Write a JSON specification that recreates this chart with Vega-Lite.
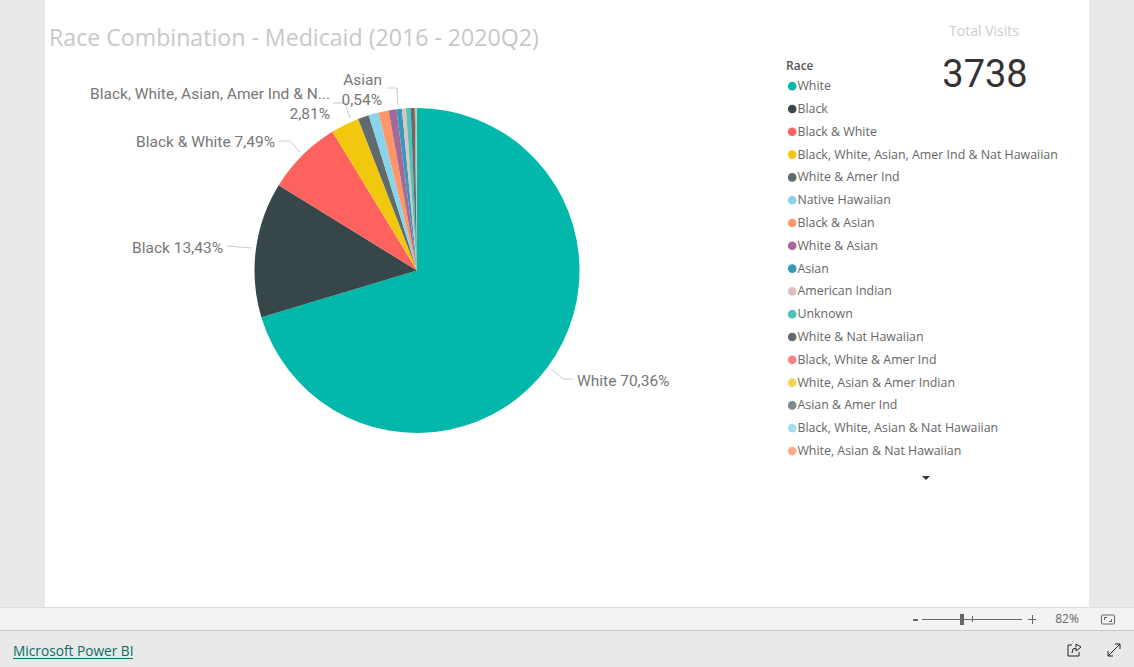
{
"$schema":"https://vega.github.io/schema/vega-lite/v6.json",
"width":834,"height":541,
"autosize":{"type":"none"},
"padding":{"left":0,"top":0,"right":300,"bottom":126},
"background":"#e9e9e9",
"config":{"view":{"stroke":null}},
"title":{"text":"Race Combination - Medicaid (2016 - 2020Q2)","anchor":"start","frame":"group","orient":"top","offset":0,"dx":49,"dy":51,"font":"Open Sans","fontSize":23.15,"fontWeight":"normal","color":"#c8c8c8","zindex":1},
"datasets":{
"race":[
{"race":"White","share":70.36,"rank":1},
{"race":"Black","share":13.43,"rank":2},
{"race":"Black & White","share":7.49,"rank":3},
{"race":"Black, White, Asian, Amer Ind & Nat Hawaiian","share":2.81,"rank":4},
{"race":"White & Amer Ind","share":1.1,"rank":5},
{"race":"Native Hawaiian","share":1.0,"rank":6},
{"race":"Black & Asian","share":1.0,"rank":7},
{"race":"White & Asian","share":0.78,"rank":8},
{"race":"Asian","share":0.54,"rank":9},
{"race":"American Indian","share":0.4,"rank":10},
{"race":"Unknown","share":0.46,"rank":11},
{"race":"White & Nat Hawaiian","share":0.4,"rank":12},
{"race":"Black, White & Amer Ind","share":0.1,"rank":13},
{"race":"White, Asian & Amer Indian","share":0.05,"rank":14},
{"race":"Asian & Amer Ind","share":0.04,"rank":15},
{"race":"Black, White, Asian & Nat Hawaiian","share":0.02,"rank":16},
{"race":"White, Asian & Nat Hawaiian","share":0.01,"rank":17}
]},
"layer":[
{"data":{"values":[{"x":45,"x2":1089,"y":0,"y2":607}]},"mark":{"type":"rect","color":"#ffffff"},"encoding":{"x":{"field":"x","type":"quantitative","axis":null,"scale":{"domain":[0,1134],"range":[0,1134],"nice":false}},"x2":{"field":"x2"},"y":{"field":"y","type":"quantitative","axis":null,"scale":{"domain":[0,667],"range":[0,667],"nice":false}},"y2":{"field":"y2"}}},
{"data":{"values":[{"x":0,"x2":1134,"y":607,"y2":631}]},"mark":{"type":"rect","color":"#f3f3f3"},"encoding":{"x":{"field":"x","type":"quantitative","axis":null,"scale":{"domain":[0,1134],"range":[0,1134],"nice":false}},"x2":{"field":"x2"},"y":{"field":"y","type":"quantitative","axis":null,"scale":{"domain":[0,667],"range":[0,667],"nice":false}},"y2":{"field":"y2"}}},
{"data":{"values":[{"x":0,"x2":1134,"y":607,"y2":608}]},"mark":{"type":"rect","color":"#dedede"},"encoding":{"x":{"field":"x","type":"quantitative","axis":null,"scale":{"domain":[0,1134],"range":[0,1134],"nice":false}},"x2":{"field":"x2"},"y":{"field":"y","type":"quantitative","axis":null,"scale":{"domain":[0,667],"range":[0,667],"nice":false}},"y2":{"field":"y2"}}},
{"data":{"values":[{"x":0,"x2":1134,"y":630,"y2":631}]},"mark":{"type":"rect","color":"#c8c8c8"},"encoding":{"x":{"field":"x","type":"quantitative","axis":null,"scale":{"domain":[0,1134],"range":[0,1134],"nice":false}},"x2":{"field":"x2"},"y":{"field":"y","type":"quantitative","axis":null,"scale":{"domain":[0,667],"range":[0,667],"nice":false}},"y2":{"field":"y2"}}},
{"data":{"values":[{"x":922,"x2":1022,"y":619,"y2":620},{"x":960,"x2":964,"y":614,"y2":625},{"x":972,"x2":973,"y":616,"y2":622},{"x":913,"x2":918,"y":619,"y2":621},{"x":1028,"x2":1036,"y":619,"y2":620},{"x":1032,"x2":1033,"y":615,"y2":624},{"x":1104,"x2":1107,"y":617,"y2":618},{"x":1104,"x2":1105,"y":617,"y2":620},{"x":1109,"x2":1112,"y":621,"y2":622},{"x":1111,"x2":1112,"y":619,"y2":622}]},"mark":{"type":"rect","color":"#666666"},"encoding":{"x":{"field":"x","type":"quantitative","axis":null,"scale":{"domain":[0,1134],"range":[0,1134],"nice":false}},"x2":{"field":"x2"},"y":{"field":"y","type":"quantitative","axis":null,"scale":{"domain":[0,667],"range":[0,667],"nice":false}},"y2":{"field":"y2"}}},
{"data":{"values":[{"x":1101.5,"x2":1114.5,"y":615,"y2":624}]},"mark":{"type":"rect","fill":null,"stroke":"#666666","strokeWidth":1,"cornerRadius":1},"encoding":{"x":{"field":"x","type":"quantitative","axis":null,"scale":{"domain":[0,1134],"range":[0,1134],"nice":false}},"x2":{"field":"x2"},"y":{"field":"y","type":"quantitative","axis":null,"scale":{"domain":[0,667],"range":[0,667],"nice":false}},"y2":{"field":"y2"}}},
{"data":{"values":[{"x":13,"x2":133,"y":658,"y2":659}]},"mark":{"type":"rect","color":"#0b6a66"},"encoding":{"x":{"field":"x","type":"quantitative","axis":null,"scale":{"domain":[0,1134],"range":[0,1134],"nice":false}},"x2":{"field":"x2"},"y":{"field":"y","type":"quantitative","axis":null,"scale":{"domain":[0,667],"range":[0,667],"nice":false}},"y2":{"field":"y2"}}},
{"data":{"name":"race"},"mark":{"type":"arc","radius":162.5},"encoding":{
"theta":{"field":"share","type":"quantitative","stack":true},
"order":{"field":"rank","type":"quantitative"},
"color":{"field":"race","type":"nominal","scale":{"domain":["White","Black","Black & White","Black, White, Asian, Amer Ind & Nat Hawaiian","White & Amer Ind","Native Hawaiian","Black & Asian","White & Asian","Asian","American Indian","Unknown","White & Nat Hawaiian","Black, White & Amer Ind","White, Asian & Amer Indian","Asian & Amer Ind","Black, White, Asian & Nat Hawaiian","White, Asian & Nat Hawaiian"],"range":["#01B8AA","#374649","#FD625E","#F2C80F","#5F6B6D","#8AD4EB","#FE9666","#A66999","#3599B8","#DFBFBF","#4AC5BB","#5F6B6D","#FB8281","#F4D25A","#7F898A","#A4DDEE","#FDAB89"]},
"legend":{"title":"Race","orient":"none","legendX":786,"legendY":61,"symbolType":"circle","symbolSize":75,"symbolStrokeWidth":0,"labelFont":"Open Sans","labelFontSize":12.4,"labelColor":"#666666","titleFont":"Open Sans","titleFontSize":12,"titleFontWeight":600,"titleColor":"#555555","titlePadding":7,"rowPadding":9.8,"labelOffset":-1,"labelLimit":300,"columns":1,"padding":0}}
}},
{"data":{"values":[
{"g":"w","x":551,"y":369},{"g":"w","x":563,"y":379},{"g":"w","x":573,"y":379},
{"g":"k","x":227,"y":246},{"g":"k","x":252,"y":248},
{"g":"bw","x":279,"y":141},{"g":"bw","x":290,"y":141},{"g":"bw","x":300,"y":152},
{"g":"m","x":333,"y":103},{"g":"m","x":345,"y":103},{"g":"m","x":350,"y":118},
{"g":"a","x":387,"y":88},{"g":"a","x":397,"y":88},{"g":"a","x":398,"y":105}
]},"mark":{"type":"line","color":"#cccccc","strokeWidth":1},"encoding":{"x":{"field":"x","type":"quantitative","axis":null,"scale":{"domain":[0,1134],"range":[0,1134],"nice":false}},"y":{"field":"y","type":"quantitative","axis":null,"scale":{"domain":[0,667],"range":[0,667],"nice":false}},"detail":{"field":"g"},"order":{"field":"x"}}},
{"data":{"values":[
{"g":"1","i":1,"x":1108,"y":656},{"g":"1","i":2,"x":1120,"y":644},
{"g":"2","i":1,"x":1108,"y":651},{"g":"2","i":2,"x":1108,"y":656},{"g":"2","i":3,"x":1113,"y":656},
{"g":"3","i":1,"x":1115,"y":644},{"g":"3","i":2,"x":1120,"y":644},{"g":"3","i":3,"x":1120,"y":649},
{"g":"4","i":1,"x":1072,"y":645},{"g":"4","i":2,"x":1068,"y":645},{"g":"4","i":3,"x":1068,"y":656},{"g":"4","i":4,"x":1079,"y":656},{"g":"4","i":5,"x":1079,"y":652},
{"g":"5","i":1,"x":1072,"y":653},{"g":"5","i":2,"x":1073,"y":649},{"g":"5","i":3,"x":1076,"y":648},{"g":"5","i":4,"x":1076,"y":651},{"g":"5","i":5,"x":1081,"y":647},{"g":"5","i":6,"x":1076,"y":644},{"g":"5","i":7,"x":1076,"y":647}
]},"mark":{"type":"line","color":"#222222","strokeWidth":1},"encoding":{"x":{"field":"x","type":"quantitative","axis":null,"scale":{"domain":[0,1134],"range":[0,1134],"nice":false}},"y":{"field":"y","type":"quantitative","axis":null,"scale":{"domain":[0,667],"range":[0,667],"nice":false}},"detail":{"field":"g"},"order":{"field":"i"}}},
{"data":{"values":[{"x":926,"y":478}]},"mark":{"type":"point","shape":"M-1,-0.5L1,-0.5L0,0.5Z","filled":true,"color":"#333333","size":64,"opacity":1},"encoding":{"x":{"field":"x","type":"quantitative","axis":null,"scale":{"domain":[0,1134],"range":[0,1134],"nice":false}},"y":{"field":"y","type":"quantitative","axis":null,"scale":{"domain":[0,667],"range":[0,667],"nice":false}}}},
{"data":{"values":[{"x":577,"y":381,"t":"White 70,36%"}]},"mark":{"type":"text","align":"left","baseline":"middle","font":"Roboto","fontSize":15.5,"color":"#777777"},"encoding":{"x":{"field":"x","type":"quantitative","axis":null,"scale":{"domain":[0,1134],"range":[0,1134],"nice":false}},"y":{"field":"y","type":"quantitative","axis":null,"scale":{"domain":[0,667],"range":[0,667],"nice":false}},"text":{"field":"t"}}},
{"data":{"values":[
{"x":223,"y":248,"t":"Black 13,43%"},
{"x":275,"y":142,"t":"Black & White 7,49%"},
{"x":330,"y":94,"t":"Black, White, Asian, Amer Ind & N..."},
{"x":330,"y":114,"t":"2,81%"},
{"x":382,"y":80,"t":"Asian"},
{"x":382,"y":100,"t":"0,54%"}
]},"mark":{"type":"text","align":"right","baseline":"middle","font":"Roboto","fontSize":15.5,"color":"#777777"},"encoding":{"x":{"field":"x","type":"quantitative","axis":null,"scale":{"domain":[0,1134],"range":[0,1134],"nice":false}},"y":{"field":"y","type":"quantitative","axis":null,"scale":{"domain":[0,667],"range":[0,667],"nice":false}},"text":{"field":"t"}}},
{"data":{"values":[{"x":984,"y":32,"t":"Total Visits"}]},"mark":{"type":"text","align":"center","baseline":"middle","font":"Open Sans","fontSize":14,"color":"#cccccc"},"encoding":{"x":{"field":"x","type":"quantitative","axis":null,"scale":{"domain":[0,1134],"range":[0,1134],"nice":false}},"y":{"field":"y","type":"quantitative","axis":null,"scale":{"domain":[0,667],"range":[0,667],"nice":false}},"text":{"field":"t"}}},
{"data":{"values":[{"x":985,"y":76,"t":"3738"}]},"mark":{"type":"text","align":"center","baseline":"middle","font":"Roboto","fontSize":38,"color":"#333333"},"encoding":{"x":{"field":"x","type":"quantitative","axis":null,"scale":{"domain":[0,1134],"range":[0,1134],"nice":false}},"y":{"field":"y","type":"quantitative","axis":null,"scale":{"domain":[0,667],"range":[0,667],"nice":false}},"text":{"field":"t"}}},
{"data":{"values":[{"x":1067,"y":619,"t":"82%"}]},"mark":{"type":"text","align":"center","baseline":"middle","font":"Open Sans","fontSize":12,"color":"#666666"},"encoding":{"x":{"field":"x","type":"quantitative","axis":null,"scale":{"domain":[0,1134],"range":[0,1134],"nice":false}},"y":{"field":"y","type":"quantitative","axis":null,"scale":{"domain":[0,667],"range":[0,667],"nice":false}},"text":{"field":"t"}}},
{"data":{"values":[{"x":13,"y":652,"t":"Microsoft Power BI"}]},"mark":{"type":"text","align":"left","baseline":"middle","font":"Open Sans","fontSize":13.7,"color":"#0b6a66"},"encoding":{"x":{"field":"x","type":"quantitative","axis":null,"scale":{"domain":[0,1134],"range":[0,1134],"nice":false}},"y":{"field":"y","type":"quantitative","axis":null,"scale":{"domain":[0,667],"range":[0,667],"nice":false}},"text":{"field":"t"}}}
]
}
